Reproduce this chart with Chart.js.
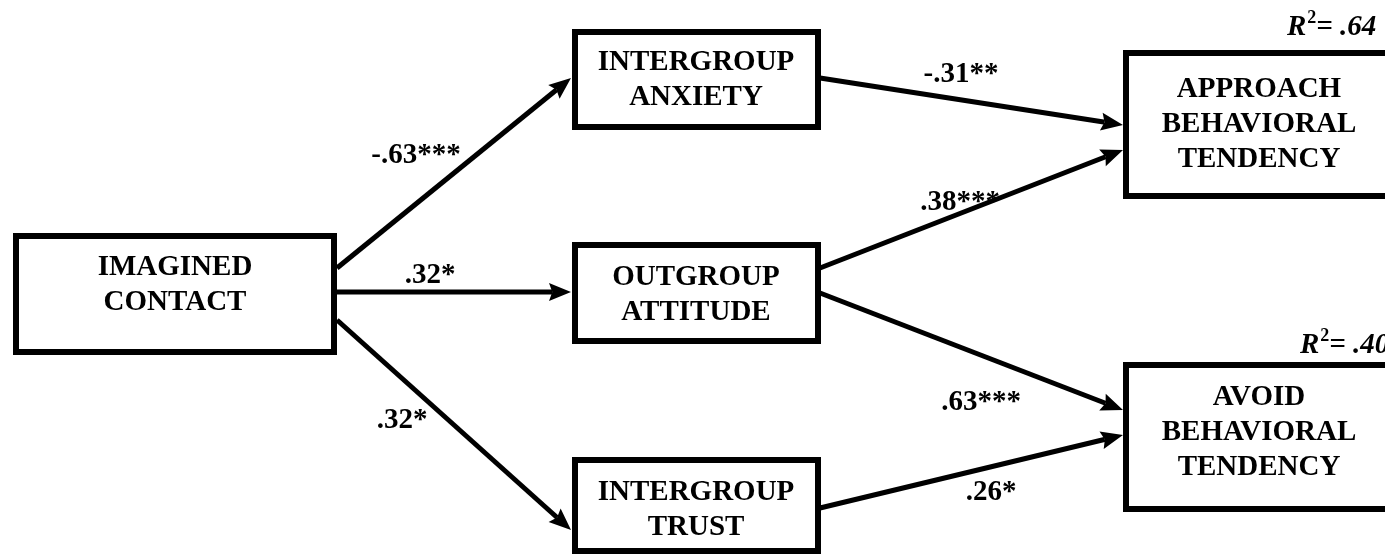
<!DOCTYPE html>
<html>
<head>
<meta charset="utf-8">
<script src="https://cdn.jsdelivr.net/npm/chart.js@4"></script>
<style>
  html, body { margin: 0; padding: 0; background: #fff; }
  #wrap { width: 1385px; height: 554px; position: relative; }
</style>
</head>
<body>
<div id="wrap"><canvas id="graph"></canvas></div>
<script>
// variables of the model
const nodeNames = [
    ['IMAGINED', 'CONTACT'],
    ['INTERGROUP', 'ANXIETY'],
    ['OUTGROUP', 'ATTITUDE'],
    ['INTERGROUP', 'TRUST'],
    ['APPROACH', 'BEHAVIORAL', 'TENDENCY'],
    ['AVOID', 'BEHAVIORAL', 'TENDENCY']
];
// paths and standardized coefficients
const pathFrom = [0, 0, 0, 1, 2, 2, 3];
const pathTo = [1, 2, 3, 4, 4, 5, 5];
const pathCoefs = ['-.63***', '.32*', '.32*', '-.31**', '.38***', '.63***', '.26*'];
// explained variance of the outcomes
const rSquaredNodes = [4, 5];
const rSquared = ['.64', '.40'];

// layout (scale units = pixels of the page)
const boxLeft = [16, 575, 575, 575, 1126, 1126];
const boxRight = [334, 818, 818, 818, 1398, 1398];
const boxTop = [236, 32, 245, 460, 53, 365];
const boxBottom = [352, 127, 341, 551, 196, 509];
const textX = [175, 696, 696, 696, 1259, 1259];
const textBase = [275, 70, 285, 500, 97, 405];
const arrowStart = [[337, 268], [337, 292], [337, 320], [820, 78], [820, 268], [820, 293], [820, 508]];
const arrowTip = [[571, 78], [571, 292], [571, 530], [1123, 125], [1123, 150], [1123, 410], [1123, 435]];
const coefPos = [[416, 163], [430, 283], [402, 428], [961, 82], [960, 210], [981, 410], [991, 500]];
const rSquaredPos = [[1287, 35], [1300, 353]];

const FONT = '"Liberation Serif", "Times New Roman", serif';
const HEAD_LEN = 22, HEAD_HALF = 9, HEAD_NOTCH = 0.85;

let datasets = [];
for (let i = 0; i < nodeNames.length; i++) {
    datasets.push({
        label: nodeNames[i].join(' '),
        data: [
            {x: boxLeft[i], y: boxTop[i]},
            {x: boxRight[i], y: boxTop[i]},
            {x: boxRight[i], y: boxBottom[i]},
            {x: boxLeft[i], y: boxBottom[i]},
            {x: boxLeft[i], y: boxTop[i]}
        ],
        showLine: true,
        borderColor: '#000',
        borderWidth: 6,
        borderJoinStyle: 'miter',
        borderCapStyle: 'square',
        pointRadius: 0,
        fill: false,
        tension: 0,
        kind: 'box'
    });
}
for (let i = 0; i < pathFrom.length; i++) {
    datasets.push({
        label: pathCoefs[i],
        data: [
            {x: arrowStart[i][0], y: arrowStart[i][1]},
            {x: arrowTip[i][0], y: arrowTip[i][1]}
        ],
        showLine: true,
        borderColor: '#000',
        borderWidth: 5,
        pointRadius: 0,
        fill: false,
        tension: 0,
        kind: 'arrow'
    });
}

function headGeom(meta) {
    const a = meta.data[0], b = meta.data[1];
    const ang = Math.atan2(b.y - a.y, b.x - a.x);
    return { b: b, c: Math.cos(ang), s: Math.sin(ang) };
}

const diagramText = {
    id: 'diagramText',
    beforeDatasetsDraw(chart) {
        const ctx = chart.ctx;
        const sx = chart.scales.x, sy = chart.scales.y;
        ctx.save();
        ctx.fillStyle = '#000';
        ctx.textAlign = 'center';
        ctx.textBaseline = 'alphabetic';
        ctx.font = 'bold 29px ' + FONT;
        for (let i = 0; i < nodeNames.length; i++) {
            for (let j = 0; j < nodeNames[i].length; j++) {
                ctx.fillText(nodeNames[i][j], sx.getPixelForValue(textX[i]), sy.getPixelForValue(textBase[i] + j * 35));
            }
        }
        for (let i = 0; i < pathCoefs.length; i++) {
            ctx.fillText(pathCoefs[i], sx.getPixelForValue(coefPos[i][0]), sy.getPixelForValue(coefPos[i][1]));
        }
        // R squared
        ctx.textAlign = 'left';
        for (let i = 0; i < rSquared.length; i++) {
            let x = sx.getPixelForValue(rSquaredPos[i][0]);
            let y = sy.getPixelForValue(rSquaredPos[i][1]);
            ctx.font = 'italic bold 29px ' + FONT;
            ctx.fillText('R', x, y);
            x += ctx.measureText('R').width;
            ctx.font = 'bold 18px ' + FONT;
            ctx.fillText('2', x + 1, y - 12);
            x += ctx.measureText('2').width + 1;
            ctx.font = 'italic bold 29px ' + FONT;
            ctx.fillText('= ' + rSquared[i], x, y);
        }
        ctx.restore();
    },
    // hide the end of each arrow line under its head
    beforeDatasetDraw(chart, args) {
        const ds = chart.data.datasets[args.index];
        if (ds.kind !== 'arrow') return;
        const ctx = chart.ctx;
        const g = headGeom(args.meta);
        const n = HEAD_LEN * HEAD_NOTCH, h = HEAD_HALF + 2;
        ctx.save();
        ctx.beginPath();
        ctx.rect(0, 0, chart.width, chart.height);
        ctx.moveTo(g.b.x - n * g.c + h * g.s, g.b.y - n * g.s - h * g.c);
        ctx.lineTo(g.b.x + 4 * g.c + h * g.s, g.b.y + 4 * g.s - h * g.c);
        ctx.lineTo(g.b.x + 4 * g.c - h * g.s, g.b.y + 4 * g.s + h * g.c);
        ctx.lineTo(g.b.x - n * g.c - h * g.s, g.b.y - n * g.s + h * g.c);
        ctx.closePath();
        ctx.clip('evenodd');
    },
    afterDatasetDraw(chart, args) {
        const ds = chart.data.datasets[args.index];
        if (ds.kind !== 'arrow') return;
        chart.ctx.restore();
    },
    afterDatasetsDraw(chart) {
        const ctx = chart.ctx;
        ctx.save();
        ctx.fillStyle = '#000';
        chart.data.datasets.forEach((ds, k) => {
            if (ds.kind !== 'arrow') return;
            const g = headGeom(chart.getDatasetMeta(k));
            const b = g.b;
            ctx.beginPath();
            ctx.moveTo(b.x, b.y);
            ctx.lineTo(b.x - HEAD_LEN * g.c + HEAD_HALF * g.s, b.y - HEAD_LEN * g.s - HEAD_HALF * g.c);
            ctx.lineTo(b.x - HEAD_LEN * HEAD_NOTCH * g.c, b.y - HEAD_LEN * HEAD_NOTCH * g.s);
            ctx.lineTo(b.x - HEAD_LEN * g.c - HEAD_HALF * g.s, b.y - HEAD_LEN * g.s + HEAD_HALF * g.c);
            ctx.closePath();
            ctx.fill();
        });
        ctx.restore();
    }
};

const graph = document.getElementById('graph');
let chart = new Chart(graph, {
    type: 'scatter',
    data: { datasets: datasets },
    options: {
        responsive: true,
        maintainAspectRatio: false,
        animation: false,
        layout: { padding: 0 },
        scales: {
            x: { type: 'linear', min: 0, max: 1385, display: false },
            y: { type: 'linear', min: 0, max: 554, reverse: true, display: false }
        },
        plugins: {
            legend: { display: false },
            tooltip: { enabled: false }
        }
    },
    plugins: [diagramText]
});
</script>
</body>
</html>
